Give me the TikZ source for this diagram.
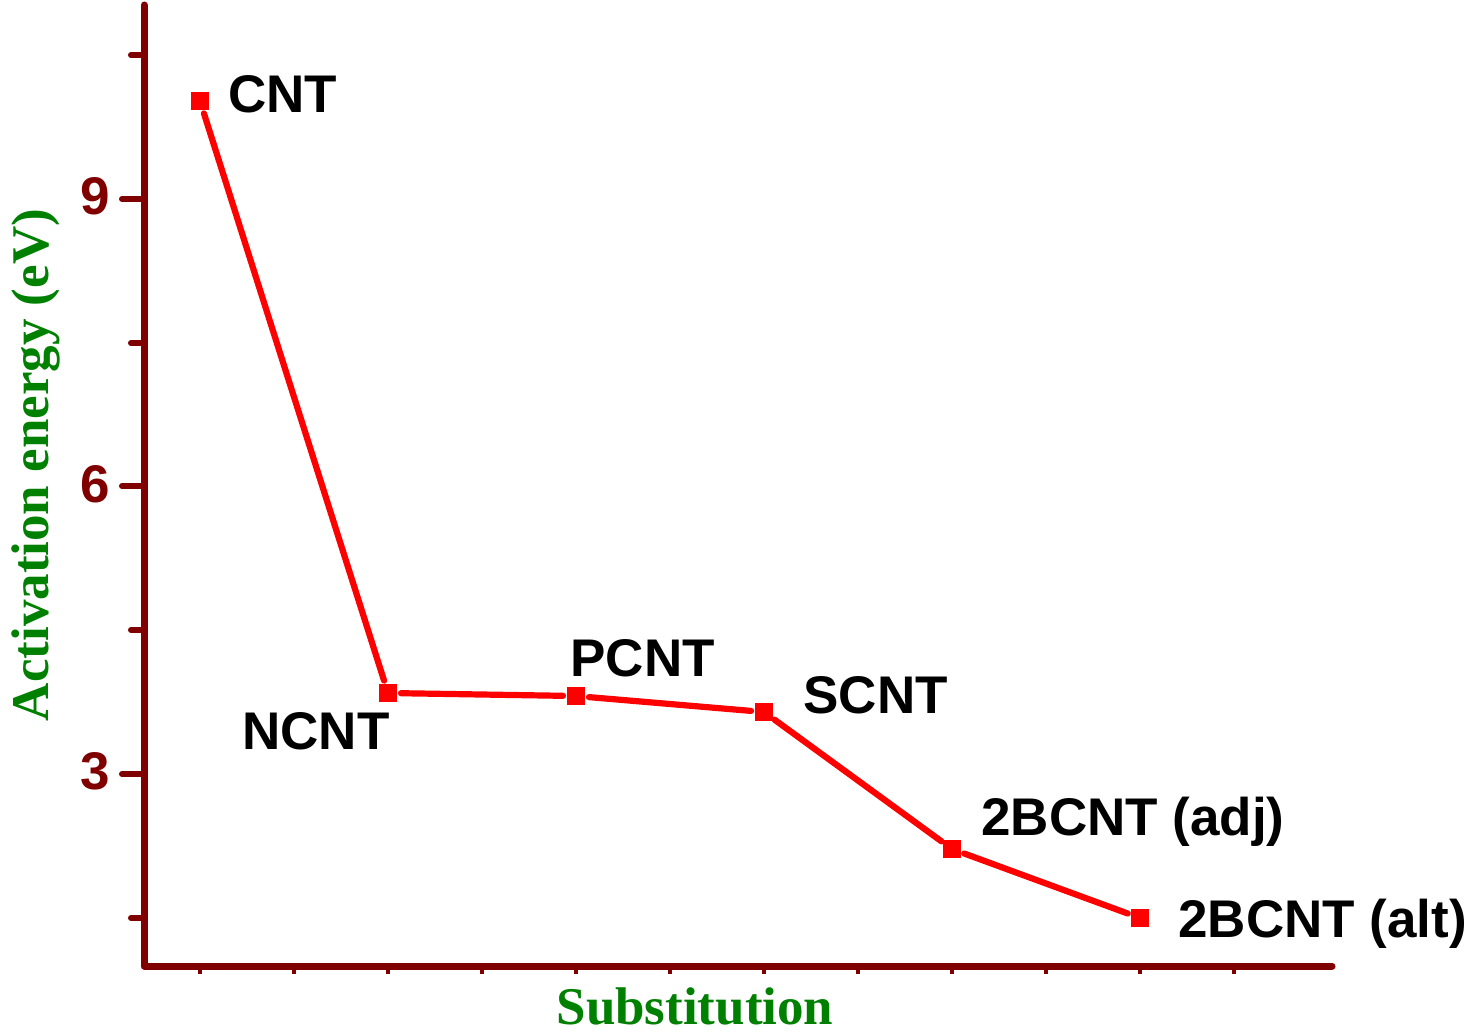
\documentclass[tikz,border=0pt]{standalone}
\usepackage{fontspec}
\setmainfont{Liberation Sans}
\newfontfamily\serifbold{Liberation Serif}
\definecolor{axred}{RGB}{128,0,0}
\definecolor{ttlgreen}{RGB}{0,128,0}
\definecolor{datared}{RGB}{255,0,0}
\begin{document}
\begin{tikzpicture}[x=0.5pt,y=-0.5pt,
  axisline/.style={draw=axred, line width=3.5pt, line cap=round, line join=round},
  majtick/.style={draw=axred, line width=3pt, line cap=round},
  mintick/.style={draw=axred, line width=3pt, line cap=round},
  xtick/.style={draw=axred, line width=1.8pt},
  ticklbl/.style={text=axred, inner sep=0pt, font=\fontsize{26.5}{30}\selectfont\bfseries},
  ptlbl/.style={text=black, inner sep=0pt, font=\fontsize{26.5}{30}\selectfont\bfseries},
  axttl/.style={text=ttlgreen, inner sep=0pt, font=\serifbold\fontsize{26.5}{30}\selectfont\bfseries},
  datapt/.style={circle, minimum size=13pt, inner sep=0pt, outer sep=0pt,
    path picture={\fill[datared] ([shift={(-4.6pt,-4.6pt)}]path picture bounding box.center) rectangle ([shift={(4.6pt,4.6pt)}]path picture bounding box.center);}},
  dataline/.style={draw=datared, line width=3.1pt, line cap=round, line join=round}
]
\useasboundingbox (0,0) rectangle (1475,1034);
% axes
\coordinate (ytop) at (144,5);
\coordinate (orig) at (144,966);
\coordinate (xend) at (1332,966);
\draw[axisline] (ytop) -- (orig) -- (xend);
% y ticks
\foreach \yy in {199,486,774} {\draw[majtick] (122,\yy) -- (144,\yy);}
\foreach \yy in {55,343,630,918} {\draw[mintick] (131,\yy) -- (144,\yy);}
% x ticks
\foreach \k in {0,...,11} {\draw[xtick] ({200+94*\k},968) -- ({200+94*\k},974);}
% tick labels
\node[ticklbl, anchor=east] (t9) at (110,196) {9};
\node[ticklbl, anchor=east] (t6) at (110,484) {6};
\node[ticklbl, anchor=east] (t3) at (110,771) {3};
% axis titles
\node[axttl, anchor=base] (xttl) at (695,1024) {Substitution};
\node[axttl, anchor=base, rotate=90] (yttl) at (48,465) {Activation energy (eV)};
% data points
\node[datapt] (p1) at (200,101) {};
\node[datapt] (p2) at (388,693) {};
\node[datapt] (p3) at (576,696) {};
\node[datapt] (p4) at (764,712) {};
\node[datapt] (p5) at (952,849) {};
\node[datapt] (p6) at (1140,918) {};
\draw[dataline] (p1) -- (p2) -- (p3) -- (p4) -- (p5) -- (p6);
% point labels
\node[ptlbl, anchor=base west] (l1) at (228,112) {CNT};
\node[ptlbl, anchor=base west] (l2) at (242,749) {NCNT};
\node[ptlbl, anchor=base west] (l3) at (570,676) {PCNT};
\node[ptlbl, anchor=base west] (l4) at (803,713) {SCNT};
\node[ptlbl, anchor=base west] (l5) at (981,835) {2BCNT (adj)};
\node[ptlbl, anchor=base west] (l6) at (1178,937) {2BCNT (alt)};
\end{tikzpicture}
\end{document}
